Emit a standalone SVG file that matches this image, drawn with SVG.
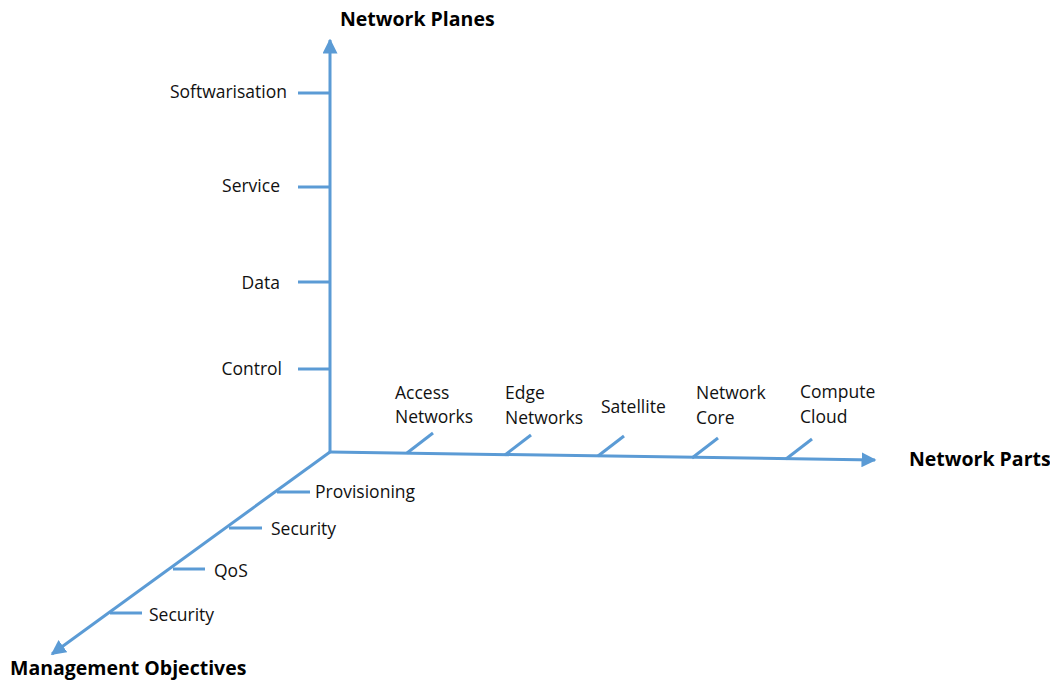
<svg xmlns="http://www.w3.org/2000/svg" width="1050" height="681" viewBox="0 0 1050 681">
  <style>
    .axis { stroke: #5b9bd5; stroke-width: 3; fill: none; }
    .tick { stroke: #5b9bd5; stroke-width: 3; fill: none; }
    .lbl { font-family: "Open Sans", "Liberation Sans", sans-serif; font-size: 17.5px; fill: #111; }
    .title { font-family: "Open Sans", "Liberation Sans", sans-serif; font-size: 19.5px; font-weight: bold; fill: #000; }
  </style>
  <defs>
    <marker id="arrow" viewBox="0 0 10 10" refX="9" refY="5" markerWidth="5" markerHeight="5" markerUnits="strokeWidth" orient="auto">
      <path d="M0,0 L10,5 L0,10 Z" fill="#5b9bd5"/>
    </marker>
  </defs>
  <rect width="1050" height="681" fill="#fff"/>

  <g id="connectors">
    <!-- three axes from the common origin -->
    <line class="axis" x1="330" y1="452" x2="330" y2="40" marker-end="url(#arrow)"/>
    <line class="axis" x1="330" y1="452" x2="875" y2="460" marker-end="url(#arrow)"/>
    <line class="axis" x1="330" y1="452" x2="52" y2="654" marker-end="url(#arrow)"/>
  </g>

  <g id="axis-planes">
    <text class="title" x="340" y="26">Network Planes</text>
    <g id="softwarisation">
      <line class="tick" x1="298" y1="93" x2="330" y2="93"/>
      <text class="lbl" x="287" y="98" text-anchor="end">Softwarisation</text>
    </g>
    <g id="service">
      <line class="tick" x1="298" y1="187" x2="330" y2="187"/>
      <text class="lbl" x="280" y="192" text-anchor="end">Service</text>
    </g>
    <g id="data">
      <line class="tick" x1="298" y1="282" x2="330" y2="282"/>
      <text class="lbl" x="280" y="289" text-anchor="end">Data</text>
    </g>
    <g id="control">
      <line class="tick" x1="298" y1="369" x2="330" y2="369"/>
      <text class="lbl" x="282" y="375" text-anchor="end">Control</text>
    </g>
  </g>

  <g id="axis-parts">
    <text class="title" x="909" y="466">Network Parts</text>
    <g id="access-networks">
      <line class="tick" x1="407" y1="453" x2="433" y2="433"/>
      <text class="lbl" x="395" y="399">Access</text>
      <text class="lbl" x="395" y="423">Networks</text>
    </g>
    <g id="edge-networks">
      <line class="tick" x1="505" y1="455" x2="531" y2="435"/>
      <text class="lbl" x="505" y="399">Edge</text>
      <text class="lbl" x="505" y="424">Networks</text>
    </g>
    <g id="satellite">
      <line class="tick" x1="598" y1="456" x2="624" y2="436"/>
      <text class="lbl" x="601" y="413">Satellite</text>
    </g>
    <g id="network-core">
      <line class="tick" x1="692" y1="458" x2="718" y2="438"/>
      <text class="lbl" x="696" y="399">Network</text>
      <text class="lbl" x="696" y="424">Core</text>
    </g>
    <g id="compute-cloud">
      <line class="tick" x1="786" y1="459" x2="812" y2="439"/>
      <text class="lbl" x="800" y="398">Compute</text>
      <text class="lbl" x="800" y="423">Cloud</text>
    </g>
  </g>

  <g id="axis-objectives">
    <text class="title" x="10" y="675">Management Objectives</text>
    <g id="provisioning">
      <line class="tick" x1="277" y1="492" x2="310" y2="492"/>
      <text class="lbl" x="315" y="498">Provisioning</text>
    </g>
    <g id="security-1">
      <line class="tick" x1="229" y1="528" x2="262" y2="528"/>
      <text class="lbl" x="271" y="535">Security</text>
    </g>
    <g id="qos">
      <line class="tick" x1="173" y1="569" x2="205" y2="569"/>
      <text class="lbl" x="214" y="577">QoS</text>
    </g>
    <g id="security-2">
      <line class="tick" x1="110" y1="613" x2="142" y2="613"/>
      <text class="lbl" x="149" y="621">Security</text>
    </g>
  </g>
</svg>
